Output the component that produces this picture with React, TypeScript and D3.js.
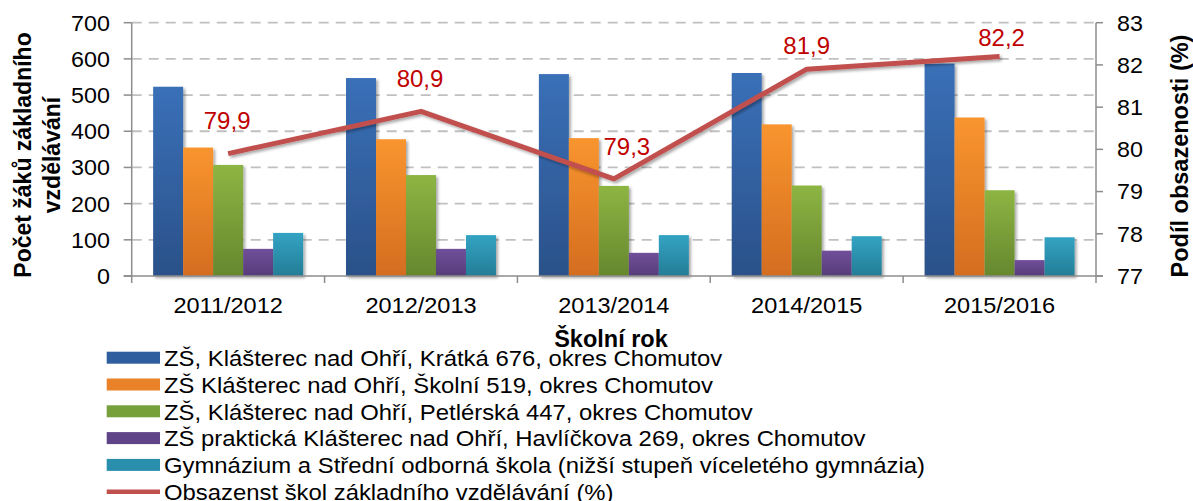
import React from "react";
import * as d3 from "d3";

const categories = ["2011/2012", "2012/2013", "2013/2014", "2014/2015", "2015/2016"];
const kratka = [523, 547, 558, 561, 587];
const skolni = [355, 378, 381, 419, 438];
const petlerska = [307, 279, 249, 250, 237];
const prakticka = [75, 75, 64, 70, 44];
const gymnazium = [119, 113, 113, 110, 107];
const obsazenost = [79.9, 80.9, 79.3, 81.9, 82.2];

const seriesNames = [
  "ZŠ, Klášterec nad Ohří, Krátká 676, okres Chomutov",
  "ZŠ Klášterec nad Ohří, Školní 519, okres Chomutov",
  "ZŠ, Klášterec nad Ohří, Petlérská 447, okres Chomutov",
  "ZŠ praktická Klášterec nad Ohří, Havlíčkova 269, okres Chomutov",
  "Gymnázium a Střední odborná škola (nižší stupeň víceletého gymnázia)",
];
const lineName = "Obsazenst škol základního vzdělávání (%)";
const leftTicks = [0, 100, 200, 300, 400, 500, 600, 700];
const rightTicks = [77, 78, 79, 80, 81, 82, 83];

// label offsets (relative to the point) for the line data labels
const labelDx = [-1, -1, 13, 0, 2];
const labelDy = [-33, -33, -32, -24, -19];

const colorsTop = ["#3A70B8", "#F9952F", "#8DB543", "#70509A", "#33A3C3"];
const colorsBottom = ["#2A5189", "#D46D1F", "#66872E", "#563C79", "#247D96"];
const legendColors = ["#2F5E9E", "#E98228", "#77A03A", "#5F4587", "#2A8FAD"];
const lineColor = "#C0504D";

const W = 1193;
const H = 501;
const L = 131.7;
const R = 1096;
const T = 22.7;
const B = 276;

const FONT = "'Liberation Sans', Arial, sans-serif";

export default function App() {
  const allSeries = [kratka, skolni, petlerska, prakticka, gymnazium];
  const x = d3.scaleBand<string>().domain(categories).range([L, R]).padding(0);
  const xs = d3
    .scaleBand<number>()
    .domain(d3.range(allSeries.length))
    .range([0, x.bandwidth()])
    .paddingInner(0)
    .paddingOuter(0.715);
  const y = d3.scaleLinear().domain([0, 700]).range([B, T]);
  const y2 = d3.scaleLinear().domain([77, 83]).range([B, T]);

  const line = d3
    .line<number>()
    .x((_, i) => (x(categories[i]) as number) + x.bandwidth() / 2)
    .y((d) => y2(d));

  const axisColor = "#8C8C8C";

  return (
    <svg
      width={W}
      height={H}
      style={{ position: "absolute", left: 0, top: 0, background: "#fff" }}
      fontFamily={FONT}
    >
      <defs>
        {colorsTop.map((c, i) => (
          <linearGradient key={i} id={`g${i}`} x1="0" y1="0" x2="0" y2="1">
            <stop offset="0" stopColor={c} />
            <stop offset="1" stopColor={colorsBottom[i]} />
          </linearGradient>
        ))}
        <filter id="shadow" x="-20%" y="-20%" width="140%" height="160%">
          <feGaussianBlur in="SourceAlpha" stdDeviation="1.5" />
          <feOffset dx="2" dy="2" result="ob" />
          <feComponentTransfer>
            <feFuncA type="linear" slope="0.35" />
          </feComponentTransfer>
          <feMerge>
            <feMergeNode />
            <feMergeNode in="SourceGraphic" />
          </feMerge>
        </filter>
      </defs>

      {/* gridlines */}
      {leftTicks
        .filter((t) => t > 0)
        .map((t) => (
          <line
            key={t}
            x1={L}
            x2={R}
            y1={y(t)}
            y2={y(t)}
            stroke="#C0C0C0"
            strokeWidth={1.8}
            strokeDasharray="10,7"
          />
        ))}

      {/* bars */}
      {allSeries.map((s, si) =>
        s.map((v, ci) => (
          <rect
            key={`${si}-${ci}`}
            x={(x(categories[ci]) as number) + (xs(si) as number)}
            y={y(v)}
            width={xs.bandwidth()}
            height={B - y(v)}
            fill={`url(#g${si})`}
            filter="url(#shadow)"
          />
        ))
      )}

      {/* axes */}
      <line x1={L} x2={L} y1={T} y2={B} stroke={axisColor} strokeWidth={1.5} />
      <line x1={R} x2={R} y1={T} y2={B} stroke={axisColor} strokeWidth={1.5} />
      <line x1={L - 8} x2={R + 7} y1={B} y2={B} stroke={axisColor} strokeWidth={1.5} />
      {leftTicks.map((t) => (
        <g key={t}>
          <line x1={L - 8} x2={L} y1={y(t)} y2={y(t)} stroke={axisColor} strokeWidth={1.5} />
          <text
            x={110}
            y={y(t)}
            dy="0.36em"
            textAnchor="end"
            fontSize={22}
            fill="#000"
            transform={`translate(110,0) scale(1.06,1) translate(-110,0)`}
          >
            {t}
          </text>
        </g>
      ))}
      {rightTicks.map((t) => (
        <g key={t}>
          <line x1={R} x2={R + 7} y1={y2(t)} y2={y2(t)} stroke={axisColor} strokeWidth={1.5} />
          <text
            x={1117}
            y={y2(t)}
            dy="0.36em"
            textAnchor="start"
            fontSize={22}
            fill="#000"
            transform={`translate(1117,0) scale(1.06,1) translate(-1117,0)`}
          >
            {t}
          </text>
        </g>
      ))}
      {categories.map((c, i) => {
        const x0 = x(c) as number;
        const cx = x0 + x.bandwidth() / 2;
        return (
          <g key={c}>
            <line x1={x0} x2={x0} y1={B} y2={B + 7} stroke={axisColor} strokeWidth={1.5} />
            {i === categories.length - 1 && (
              <line x1={R} x2={R} y1={B} y2={B + 7} stroke={axisColor} strokeWidth={1.5} />
            )}
            <text
              x={cx}
              y={312.7}
              textAnchor="middle"
              fontSize={22}
              fill="#000"
              transform={`translate(${cx},0) scale(1.07,1) translate(${-cx},0)`}
            >
              {c}
            </text>
          </g>
        );
      })}

      {/* line */}
      <path
        d={line(obsazenost) as string}
        fill="none"
        stroke={lineColor}
        strokeWidth={5}
        strokeLinejoin="round"
        filter="url(#shadow)"
      />
      {obsazenost.map((v, i) => (
        <text
          key={i}
          x={(x(categories[i]) as number) + x.bandwidth() / 2 + labelDx[i]}
          y={y2(v) + labelDy[i]}
          dy="0.35em"
          textAnchor="middle"
          fontSize={24}
          fill="#C00000"
        >
          {String(v).replace(".", ",")}
        </text>
      ))}

      {/* axis titles */}
      <text
        transform="translate(31,155) rotate(-90)"
        textAnchor="middle"
        fontSize={23}
        fontWeight="bold"
        fill="#000"
      >
        Počet žáků základního
      </text>
      <text
        transform="translate(59.5,155) rotate(-90)"
        textAnchor="middle"
        fontSize={23}
        fontWeight="bold"
        fill="#000"
      >
        vzdělávání
      </text>
      <text
        transform="translate(1188,156) rotate(-90)"
        textAnchor="middle"
        fontSize={23.5}
        fontWeight="bold"
        fill="#000"
      >
        Podíl obsazenosti (%)
      </text>
      <text x={611} y={346.7} textAnchor="middle" fontSize={23.5} fontWeight="bold" fill="#000">
        Školní rok
      </text>

      {/* legend */}
      {seriesNames.map((n, i) => {
        const by = 366 + i * 26.8;
        return (
          <g key={n}>
            <rect x={106.7} y={by - 14.3} width={53.3} height={12} fill={legendColors[i]} />
            <text
              x={164}
              y={by}
              fontSize={21.5}
              fill="#000"
              transform={`translate(164,0) scale(1.11,1) translate(-164,0)`}
            >
              {n}
            </text>
          </g>
        );
      })}
      {(() => {
        const by = 366 + 5 * 26.8;
        return (
          <g>
            <rect x={106.7} y={by - 10.5} width={53.3} height={4.5} fill={lineColor} />
            <text
              x={164}
              y={by}
              fontSize={21.5}
              fill="#000"
              transform={`translate(164,0) scale(1.11,1) translate(-164,0)`}
            >
              {lineName}
            </text>
          </g>
        );
      })()}
    </svg>
  );
}
